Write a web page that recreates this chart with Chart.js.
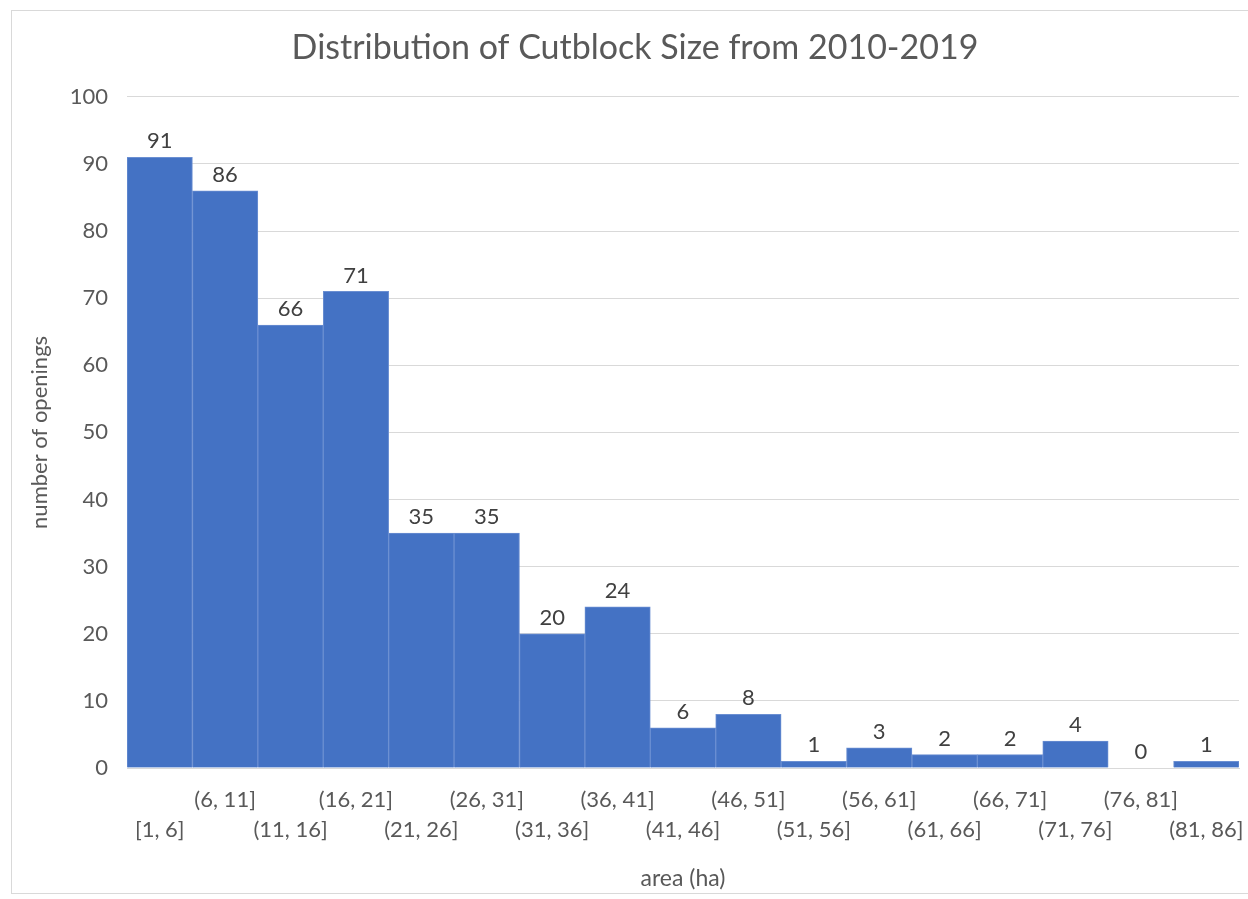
<!DOCTYPE html>
<html>
<head>
<meta charset="utf-8">
<script src="https://cdn.jsdelivr.net/npm/chart.js@4.4.1/dist/chart.umd.min.js"></script>
<style>
  html, body { margin: 0; padding: 0; background: #fff; overflow: hidden; }
  #frame {
    position: absolute; left: 11px; top: 10px; width: 1270px; height: 884px;
    border: 1px solid #d9d9d9; box-sizing: border-box;
  }
  #wrap { position: absolute; left: 0; top: 0; width: 1270px; height: 899px; }
</style>
</head>
<body>
<div id="frame"></div>
<div id="wrap"><canvas id="cutblockChart"></canvas></div>
<script>
const categories = ["[1, 6]", "(6, 11]", "(11, 16]", "(16, 21]", "(21, 26]", "(26, 31]",
    "(31, 36]", "(36, 41]", "(41, 46]", "(46, 51]", "(51, 56]", "(56, 61]",
    "(61, 66]", "(66, 71]", "(71, 76]", "(76, 81]", "(81, 86]"];
const openings = [91, 86, 66, 71, 35, 35, 20, 24, 6, 8, 1, 3, 2, 2, 4, 0, 1];
const yTicks = [0, 10, 20, 30, 40, 50, 60, 70, 80, 90, 100];

const textColor = "#595959";
const fontFamily = "Lato, 'Open Sans', sans-serif";

// value labels above each bar
const barValues = {
    id: 'barValues',
    afterDatasetsDraw(chart) {
        const ctx = chart.ctx;
        const meta = chart.getDatasetMeta(0);
        ctx.save();
        ctx.font = "22px " + fontFamily;
        ctx.fillStyle = "#404040";
        ctx.textAlign = "center";
        ctx.textBaseline = "middle";
        meta.data.forEach((bar, i) => {
            ctx.fillText(String(openings[i]), bar.x, bar.y - 16);
        });
        ctx.restore();
    }
};

function generateChart() {
    const ctx = document.getElementById("cutblockChart").getContext("2d");

    new Chart(ctx, {
        type: 'bar',
        data: {
            labels: categories,
            datasets: [{
                label: 'number of openings',
                data: openings,
                backgroundColor: "#4472c4",
                borderColor: "#6b8fd2",
                borderWidth: 1,
                categoryPercentage: 1.0,
                barPercentage: 1.0
            }]
        },
        options: {
            responsive: false,
            animation: false,
            layout: { padding: 0 },
            plugins: {
                legend: { display: false },
                tooltip: { enabled: false },
                title: {
                    display: true,
                    text: 'Distribution of Cutblock Size from 2010-2019',
                    color: textColor,
                    font: { family: fontFamily, size: 34, weight: 'normal', lineHeight: 1.2 },
                    padding: { top: 28, bottom: 28 }
                }
            },
            scales: {
                x: {
                    grid: { display: false, drawTicks: false },
                    border: { color: "#d9d9d9" },
                    ticks: {
                        color: textColor,
                        autoSkip: false,
                        maxRotation: 0,
                        padding: 17,
                        font: { family: fontFamily, size: 22, lineHeight: 1.364 },
                        callback: (v, i) => i % 2 === 0 ? ['', categories[i]] : [categories[i], '']
                    },
                    title: {
                        display: true,
                        text: 'area (ha)',
                        color: textColor,
                        font: { family: fontFamily, size: 23, lineHeight: 1.2 },
                        padding: { top: 0, bottom: 7 }
                    },
                    afterFit: (scale) => { scale.height = 131; }
                },
                y: {
                    min: 0,
                    max: 100,
                    grid: { color: "#d9d9d9", drawTicks: false },
                    border: { display: false },
                    afterBuildTicks: (scale) => { scale.ticks = yTicks.map(v => ({ value: v })); },
                    ticks: {
                        color: textColor,
                        padding: 19,
                        font: { family: fontFamily, size: 22 }
                    },
                    title: {
                        display: true,
                        text: 'number of openings',
                        color: textColor,
                        font: { family: fontFamily, size: 22, lineHeight: 1.2 },
                        padding: { top: 27, bottom: 0 }
                    },
                    afterFit: (scale) => { scale.width = 127; }
                },
                // empty right-hand spacer so the plot stops short of the frame edge
                spacer: {
                    type: 'linear',
                    position: 'right',
                    min: 0,
                    max: 100,
                    grid: { display: false, drawTicks: false },
                    border: { display: false },
                    ticks: { display: false },
                    afterFit: (scale) => { scale.width = 31; }
                }
            }
        },
        plugins: [barValues]
    });
}

document.getElementById("cutblockChart").width = 1270;
document.getElementById("cutblockChart").height = 899;
document.addEventListener("DOMContentLoaded", () => generateChart());
</script>
</body>
</html>
